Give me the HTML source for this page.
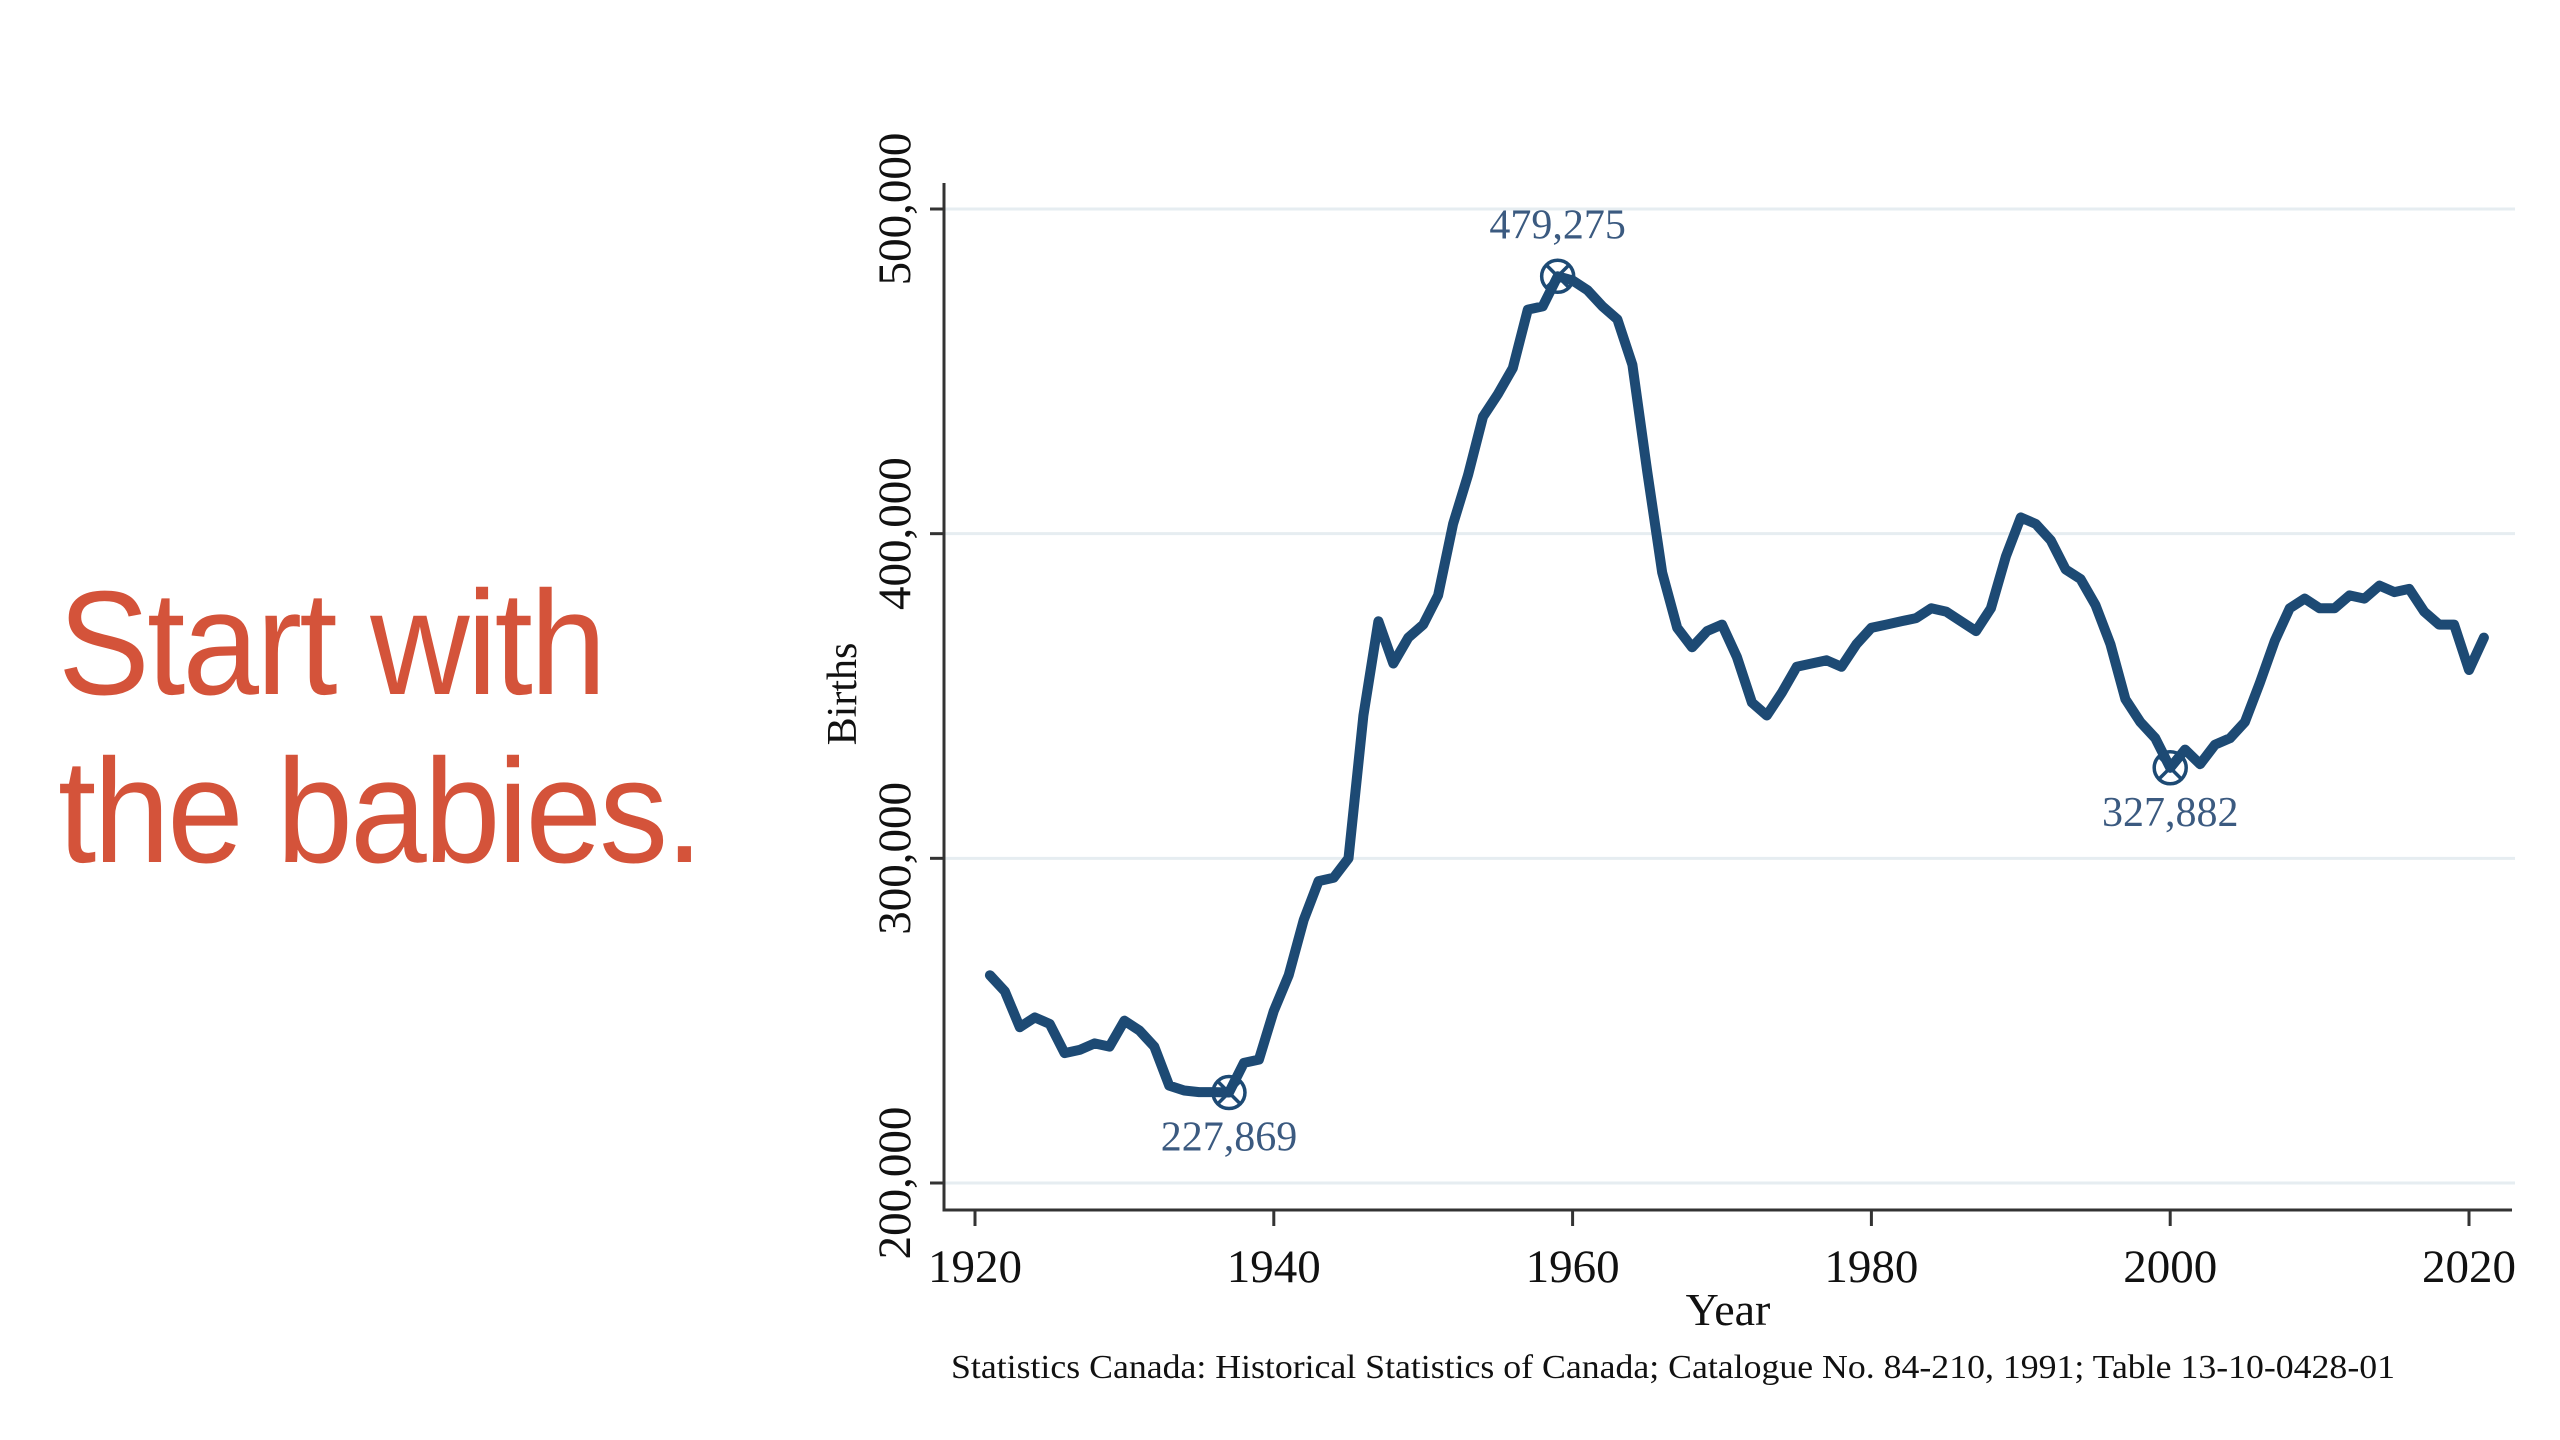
<!DOCTYPE html>
<html><head><meta charset="utf-8"><style>
html,body{margin:0;padding:0;background:#fff;width:2560px;height:1440px;overflow:hidden}
.title{position:absolute;left:58px;top:560px;font-family:"Liberation Sans",sans-serif;font-size:148px;line-height:168px;color:#d4533a;letter-spacing:-3px;margin:0;font-weight:normal;transform:scaleX(0.93);transform-origin:0 0}
svg{position:absolute;left:0;top:0}
</style></head><body>
<h1 class="title">Start with<br>the babies.</h1>
<svg id="chart" width="2560" height="1440" font-family="Liberation Serif, serif"></svg>
<script>
const years=[];for(let y=1921;y<=2021;y++)years.push(y);
const births=[264,259,248,251,249,240,241,243,242,250,247,242,230,228.5,228,228,227.869,237,238,253,264,281,293,294,300,344,373,360,368,372,381,403,418,436,443,451,469,470,479.275,478,475,470,466,452,419,388,371,365,370,372,362,348,344,351,359,360,361,359,366,371,372,373,374,377,376,373,370,377,393,405,403,398,389,386,378,366,349,342,337,327.882,333.5,329,335,337,342,354,367,377,380,377,377,381,380,384,382,383,376,372,372,358,368];
const xTicks=[1920,1940,1960,1980,2000,2020];
const yTicks=[200,300,400,500];
const annoYears=[1937,1959,2000];
const annoLabels=["227,869","479,275","327,882"];
const annoPos=["below","above","below"];
const NS="http://www.w3.org/2000/svg";
const svg=document.getElementById('chart');
const X=y=>975+(y-1920)*(2469-975)/100;
const Y=v=>1183-(v-200)*(1183-209)/300;
function mk(t,a,p){const e=document.createElementNS(NS,t);for(const k in a)e.setAttribute(k,a[k]);(p||svg).appendChild(e);return e;}
yTicks.forEach(v=>{
 const g=mk('line',{x1:944,x2:2515,y1:Y(v),y2:Y(v),stroke:'#e6edf1','stroke-width':3});
 
 
 const t=mk('line',{x1:930,x2:944,y1:Y(v),y2:Y(v),stroke:'#333','stroke-width':3});
 
 
 const l=mk('text',{x:0,y:0,'font-size':47,'text-anchor':'middle',fill:'#111',transform:`translate(910,${Y(v)}) rotate(-90)`});
 l.textContent=(v*1000).toLocaleString('en-US');
 
 
});
const ax=mk('path',{d:'M944 183 L944 1210 L2512 1210',fill:'none',stroke:'#333','stroke-width':3});


xTicks.forEach(v=>{
 const t=mk('line',{x1:X(v),x2:X(v),y1:1210,y2:1226,stroke:'#333','stroke-width':3});
 
 
 const l=mk('text',{x:X(v),y:1282,'font-size':47,'text-anchor':'middle',fill:'#111'});
 l.textContent=v;
 
 
});
const yt=mk('text',{x:0,y:0,'font-size':42,'text-anchor':'middle',fill:'#111',transform:'translate(856,694) rotate(-90)'});
yt.textContent='Births';


const xt=mk('text',{x:1728,y:1325,'font-size':46,'text-anchor':'middle',fill:'#111'});
xt.textContent='Year';


const src=mk('text',{x:951,y:1378,'font-size':34,fill:'#111',textLength:1444,lengthAdjust:'spacingAndGlyphs'});
src.textContent='Statistics Canada: Historical Statistics of Canada; Catalogue No. 84-210, 1991; Table 13-10-0428-01';


const line=mk('path',{d:years.map((y,i)=>(i?'L':'M')+X(y).toFixed(1)+' '+Y(births[i]).toFixed(1)).join(' '),fill:'none',stroke:'#1d4a74','stroke-width':10,'stroke-linejoin':'round','stroke-linecap':'round'});


annoYears.forEach((yr,k)=>{
 const v=births[years.indexOf(yr)];
 const cx=X(yr),cy=Y(v),r=16;
 const g=mk('g',{});
 
 
 mk('circle',{cx,cy,r,fill:'none',stroke:'#1d4a74','stroke-width':3.5},g);
 const d=r*0.707;
 mk('path',{d:`M${cx-d} ${cy-d}L${cx+d} ${cy+d}M${cx-d} ${cy+d}L${cx+d} ${cy-d}`,stroke:'#1d4a74','stroke-width':3.5},g);
 const t=mk('text',{x:cx,y:annoPos[k]==='above'?cy-38:cy+58,'font-size':42,'text-anchor':'middle',fill:'#3b5a80'});
 t.textContent=annoLabels[k];
 
 
});
</script>
</body></html>
